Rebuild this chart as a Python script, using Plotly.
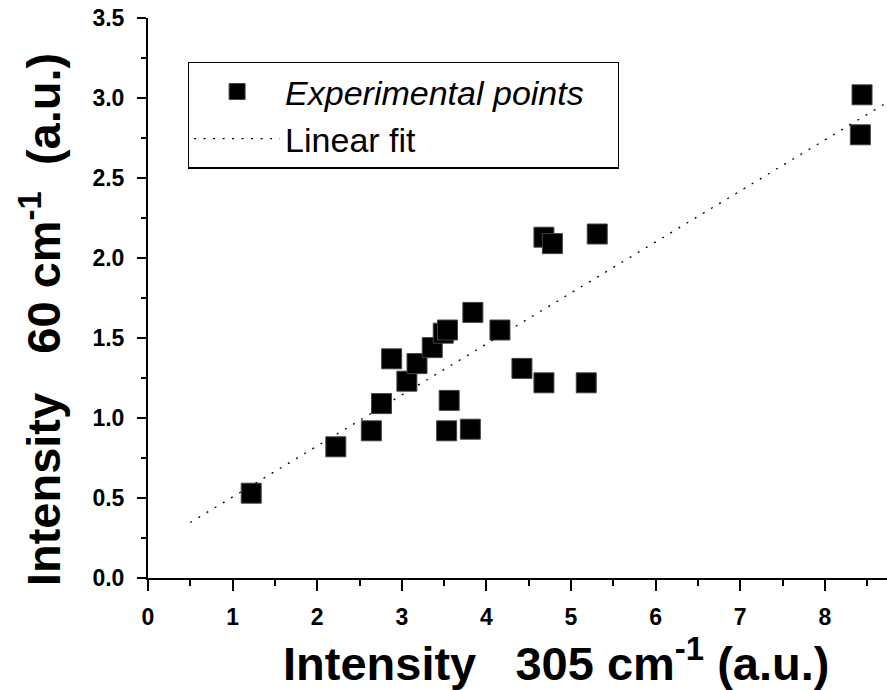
import plotly.graph_objects as go

# Measured intensities (a.u.)
i305 = [1.22, 2.22, 2.64, 2.76, 2.88, 3.06, 3.18, 3.36, 3.49, 3.54, 3.84, 4.16,
        4.42, 4.68, 5.18, 3.56, 3.53, 3.81, 4.68, 4.78, 5.31, 8.44, 8.42]
i60 = [0.53, 0.82, 0.92, 1.09, 1.37, 1.23, 1.34, 1.44, 1.53, 1.55, 1.66, 1.55,
       1.31, 1.22, 1.22, 1.11, 0.92, 0.93, 2.13, 2.09, 2.15, 3.02, 2.77]

# Linear fit line end points
fit_x = [0.5, 8.8]
fit_y = [0.347, 2.993]

y_ticks = [0.0, 0.5, 1.0, 1.5, 2.0, 2.5, 3.0, 3.5]
x_ticks = [0, 1, 2, 3, 4, 5, 6, 7, 8]

FONT = "Liberation Sans, Arial, sans-serif"

fig = go.Figure()
fig.add_trace(go.Scatter(
    x=i305, y=i60, mode="markers",
    name="<i>Experimental points</i>\u00a0\u00a0\u00a0",
    legendgroup="pts",
    marker=dict(symbol="square", size=20, color="black",
                line=dict(color="#444", width=1)),
    cliponaxis=False,
))
fig.add_trace(go.Scatter(
    x=fit_x, y=fit_y, mode="lines", name="Linear fit",
    legendgroup="fit",
    line=dict(color="black", width=1.3, dash="2px,7.5px"),
))

axis_common = dict(
    showgrid=False, zeroline=False, showline=True, linecolor="black",
    linewidth=2, ticks="outside", tickcolor="black", tickwidth=2,
    tickfont=dict(family=FONT, size=23, color="black", weight="bold"),
)

fig.update_xaxes(
    range=[0, 8.735], tickvals=x_ticks, ticktext=[str(v) for v in x_ticks],
    ticklen=11, ticklabelstandoff=6,
    minor=dict(dtick=0.5, tick0=0, ticks="outside", ticklen=6,
               tickwidth=2, tickcolor="black"),
    **axis_common,
)
fig.update_yaxes(
    range=[0, 3.5], tickvals=y_ticks, ticktext=[f"{v:.1f}" for v in y_ticks],
    ticklen=9, ticklabelstandoff=8,
    minor=dict(dtick=0.25, tick0=0, ticks="outside", ticklen=5,
               tickwidth=2, tickcolor="black"),
    **axis_common,
)

title_font = dict(family=FONT, size=47, color="black", weight="bold")
fig.add_annotation(
    text="Intensity\u00a0\u00a0\u00a0305 cm<sup>-1</sup> (a.u.)",
    xref="paper", yref="paper", x=0.552, y=0, xanchor="center",
    yanchor="middle", yshift=-82, showarrow=False, font=title_font,
)
fig.add_annotation(
    text="Intensity\u00a0\u00a0\u00a060 cm<sup>-1</sup>\u00a0\u00a0(a.u.)",
    xref="paper", yref="paper", x=-0.145, y=0.462, xanchor="center",
    yanchor="middle", textangle=-90, showarrow=False, font=title_font,
)

fig.update_layout(
    width=887, height=690,
    margin=dict(l=148, r=0, t=18, b=112),
    paper_bgcolor="white", plot_bgcolor="white",
    showlegend=True,
    legend=dict(
        x=0.054, y=0.922, xanchor="left", yanchor="top",
        bgcolor="white", bordercolor="black", borderwidth=1.2,
        font=dict(family=FONT, size=34, color="black"),
        itemwidth=86, tracegroupgap=0, traceorder="grouped",
    ),
)

fig.write_html("out.html")
